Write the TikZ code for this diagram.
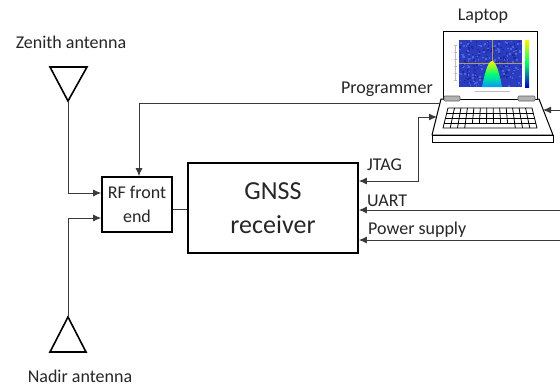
\documentclass[tikz,border=0pt]{standalone}
\usepackage{fontspec}
\setmainfont{Carlito}
\usetikzlibrary{arrows.meta}
\definecolor{ink}{HTML}{262626}
\definecolor{wirec}{HTML}{3A3A3A}
\definecolor{plotblue}{HTML}{2C3CC0}
\definecolor{plotlight}{HTML}{4A66DA}
\definecolor{plotdark}{HTML}{1E2A98}
\definecolor{gridc}{HTML}{B89A60}
\begin{document}
\begin{tikzpicture}[x=1pt,y=-1pt,
  lbl/.style={text=ink,font=\fontsize{18}{22}\selectfont,inner sep=0pt},
  blk/.style={draw=black,line width=1.6pt,text=ink,align=center,inner sep=0pt},
  wire/.style={draw=wirec,line width=1pt},
  tip/.style={-{Latex[length=8pt,width=7pt]}},
  bitip/.style={{Latex[length=8pt,width=7pt]}-{Latex[length=8pt,width=7pt]}}]
\useasboundingbox[fill=white] (0,0) rectangle (560,388);

% labels
\node[lbl] (zlab) at (71,42) {Zenith antenna};
\node[lbl] (nlab) at (80,376) {Nadir antenna};
\node[lbl] (llab) at (483,16) {Laptop};
\node[lbl,anchor=east] (plab) at (433,89) {Programmer};
\node[lbl,anchor=west] (jlab) at (367,165) {JTAG};
\node[lbl,anchor=west] (ulab) at (367,201) {UART};
\node[lbl,anchor=west] (pslab) at (368,230) {Power supply};

% antennas
\coordinate (zapex) at (68,101);
\coordinate (napex) at (68,317);
\draw[line width=1.6pt,draw=black,line join=miter] (50,67) -- (87,67) -- (zapex) -- cycle;
\draw[line width=1.6pt,draw=black,line join=miter] (50,352) -- (86,352) -- (napex) -- cycle;

% blocks
\node[blk,minimum width=70pt,minimum height=55pt,font=\fontsize{18}{24}\selectfont] (rf) at (137,204.5) {RF front\\end};
\node[blk,minimum width=170pt,minimum height=90pt,font=\fontsize{26}{34}\selectfont] (gnss) at (273,208) {GNSS\\receiver};

% laptop: base and keyboard
\draw[line width=1pt,fill=white,line join=round] (441,99) -- (539,99) -- (553,135) -- (432,135) -- cycle;
\draw[line width=1pt,fill=white] (432,135) rectangle (553,142);
\begin{scope}[line width=0.8pt]
  \draw (448,108) -- (532,108) -- (537,128) -- (443,128) -- cycle;
  \foreach \yy in {113,118,123}
    \draw ({448-5*(\yy-108)/20},\yy) -- ({532+5*(\yy-108)/20},\yy);
  \foreach \i in {1,...,12}
    \draw ({448+\i*84/13},108) -- ({448+\i*84/13-3.75+\i*(94-84)/13*0.75},123);
  \foreach \i in {1,2,3,10,11,12}
    \draw ({448+\i*84/13-3.75+\i*(94-84)/13*0.75},123) -- ({443+\i*94/13},128);
\end{scope}
% laptop: screen with a spectrum plot
\draw[line width=1pt,fill=white] (443,31) rectangle (537,99);
\fill[plotblue] (459,40) rectangle (522,87);
\pgfmathsetseed{7}
\foreach \i in {1,...,260}{
  \pgfmathsetmacro\rx{459+rnd*61}
  \pgfmathsetmacro\ry{40+rnd*45.5}
  \pgfmathsetmacro\rc{rnd}
  \ifdim\rc pt<0.5pt
    \fill[plotlight] (\rx,\ry) rectangle ++(1.6,1.6);
  \else
    \fill[plotdark] (\rx,\ry) rectangle ++(1.6,1.6);
  \fi
}
\draw[gridc,line width=0.4pt] (492,40) -- (492,87);
\draw[gridc,line width=0.4pt] (459,63) -- (522,63);
\shade[top color=yellow!90!orange,bottom color=cyan!60!blue,middle color=green!55!cyan]
  (482,87) parabola bend (492,61) (502,87) -- cycle;
\shade[top color=yellow!90!orange,bottom color=green!60!cyan] (525,40) rectangle (529,63);
\shade[top color=green!60!cyan,bottom color=blue!80!black] (525,63) rectangle (529,87);
\foreach \yy in {45,52,59,66,73,80}{
  \draw[gray!50,line width=0.4pt] (454,\yy) -- (457,\yy);
}
\draw[gray!50,line width=0.5pt] (455,46) -- (455,80);
\draw[gray!50,line width=0.5pt] (475,91) -- (510,91);
\filldraw[fill=gray!60,draw=gray!75!black,line width=0.6pt,rounded corners=1pt] (444,96) rectangle (460,101);
\filldraw[fill=gray!60,draw=gray!75!black,line width=0.6pt,rounded corners=1pt] (518,96) rectangle (535,101);

% laptop attach points
\coordinate (lapA) at (440,103);
\coordinate (lapJ) at (437,117);
\coordinate (lapR) at (543,110);

% connectors
\coordinate (zin) at (102,193);
\coordinate (nin) at (102,218);
\draw[wire,tip] (zapex) |- (rf.west |- zin);
\draw[wire,tip] (napex) |- (rf.west |- nin);
\coordinate (pturn) at (139,103);
\draw[wire,tip] (lapA) -- (pturn) -- (pturn |- rf.north);
\coordinate (link) at (180,209);
\draw[wire] (rf.east |- link) -- (gnss.west |- link);
\coordinate (jturn) at (418,181);
\draw[wire,bitip] (gnss.east |- jturn) -- (jturn) -- (jturn |- lapJ) -- (lapJ);
\coordinate (redge) at (560,110);
\draw[wire,tip] (redge) -- (lapR);
\coordinate (uedge) at (560,210);
\draw[wire,tip] (uedge) -- (gnss.east |- uedge);
\coordinate (pedge) at (560,240);
\draw[wire,tip] (pedge) -- (gnss.east |- pedge);
\end{tikzpicture}
\end{document}
